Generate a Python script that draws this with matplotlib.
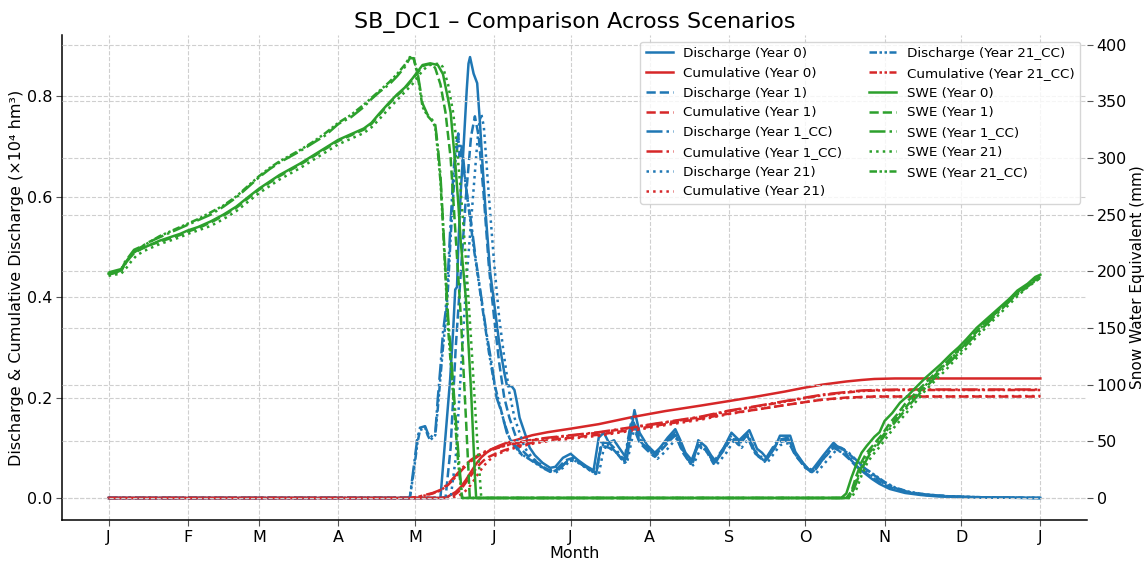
import matplotlib
matplotlib.use("Agg")
import matplotlib.pyplot as plt

# ---------------- data (day of year, value) ----------------
scenarios = ["Year 0", "Year 1", "Year 1_CC", "Year 21", "Year 21_CC"]
month_ticks = [0, 31, 59, 90, 120, 151, 181, 212, 243, 273, 304, 334, 365]
month_labels = ["J", "F", "M", "A", "M", "J", "J", "A", "S", "O", "N", "D", "J"]

# Discharge (x10^4 hm3)
q_y0_days = [0, 130, 133.8, 135, 135.8, 136.5, 137, 138, 139, 140.3, 141, 141.6, 143, 144.4, 145.5, 146.7, 148, 149.5,
             151, 153, 155, 156, 158, 159, 160, 161, 163, 165, 167, 170, 173, 175, 178, 181, 184, 187, 190, 192, 194,
             196, 198, 200, 203, 206, 208, 211, 214, 216, 219, 222, 224, 226, 229, 231, 234, 236, 238, 241, 244, 247,
             251, 254, 256, 258, 261, 263, 267, 269, 272, 275, 277, 280, 284, 286, 288, 290, 293, 296, 299, 302, 306,
             312, 318, 325, 335, 350, 365]
q_y0_vals = [0, 0, 0.236, 0.335, 0.415, 0.42, 0.5, 0.613, 0.693, 0.812, 0.865, 0.878, 0.845, 0.826, 0.746, 0.647, 0.548,
             0.449, 0.39, 0.31, 0.25, 0.225, 0.222, 0.215, 0.19, 0.16, 0.13, 0.1, 0.085, 0.07, 0.06, 0.062, 0.08, 0.088,
             0.075, 0.064, 0.055, 0.12, 0.13, 0.11, 0.115, 0.1, 0.078, 0.175, 0.13, 0.105, 0.09, 0.1, 0.12, 0.137, 0.115,
             0.09, 0.072, 0.115, 0.102, 0.085, 0.072, 0.1, 0.13, 0.115, 0.135, 0.098, 0.09, 0.078, 0.1, 0.124, 0.124,
             0.092, 0.07, 0.052, 0.065, 0.085, 0.11, 0.1, 0.097, 0.08, 0.064, 0.05, 0.038, 0.028, 0.018, 0.01, 0.006,
             0.003, 0.0015, 0.0005, 0]

q_y1_days = [0, 132, 134, 136, 138, 140, 142, 143.5, 145, 147, 149, 151, 153, 155, 157, 159, 161, 164, 167, 170, 173,
             176, 179, 182, 185, 188, 191, 193, 196, 199, 202, 205, 208, 211, 214, 217, 220, 222, 225, 228, 231, 234,
             237, 241, 244, 247, 250, 253, 257, 262, 266, 269, 273, 276, 280, 284, 287, 290, 293, 296, 300, 304, 308,
             313, 320, 330, 345, 365]
q_y1_vals = [0, 0, 0.1, 0.3, 0.45, 0.6, 0.72, 0.76, 0.72, 0.6, 0.46, 0.36, 0.27, 0.2, 0.16, 0.13, 0.1, 0.085, 0.075,
             0.062, 0.055, 0.06, 0.075, 0.08, 0.068, 0.058, 0.05, 0.105, 0.1, 0.09, 0.07, 0.15, 0.11, 0.095, 0.082,
             0.098, 0.115, 0.125, 0.09, 0.068, 0.105, 0.095, 0.068, 0.095, 0.12, 0.105, 0.125, 0.09, 0.072, 0.11, 0.115,
             0.085, 0.06, 0.05, 0.078, 0.1, 0.092, 0.078, 0.062, 0.052, 0.038, 0.026, 0.018, 0.011, 0.006, 0.003,
             0.001, 0]

q_y1cc_days = [0, 118, 119.5, 121, 122, 124, 125, 126, 127, 128, 129, 130, 131, 132, 133, 134, 135, 136, 137, 137.5,
               138.5, 140, 142, 144, 146, 148, 150, 152, 154, 156, 158, 160, 162, 165, 168, 171, 174, 177, 180, 183,
               186, 189, 191, 193, 196, 199, 202, 205, 208, 211, 214, 217, 220, 222, 225, 228, 231, 234, 237, 241,
               244, 247, 250, 253, 257, 262, 266, 269, 273, 276, 280, 284, 287, 290, 293, 296, 300, 304, 308, 313,
               320, 330, 345, 365]
q_y1cc_vals = [0, 0, 0.06, 0.12, 0.14, 0.143, 0.13, 0.12, 0.125, 0.13, 0.2, 0.26, 0.33, 0.37, 0.45, 0.55, 0.64, 0.7,
               0.726, 0.68, 0.7, 0.62, 0.55, 0.47, 0.4, 0.33, 0.27, 0.2, 0.17, 0.13, 0.11, 0.1, 0.085, 0.078, 0.068,
               0.058, 0.052, 0.06, 0.075, 0.078, 0.065, 0.055, 0.05, 0.11, 0.11, 0.095, 0.075, 0.16, 0.12, 0.1, 0.088,
               0.105, 0.12, 0.13, 0.095, 0.07, 0.11, 0.1, 0.072, 0.1, 0.125, 0.11, 0.13, 0.095, 0.075, 0.115, 0.12,
               0.09, 0.062, 0.055, 0.08, 0.105, 0.1, 0.09, 0.075, 0.06, 0.045, 0.03, 0.02, 0.012, 0.007, 0.003, 0.001, 0]

q_y21_days = [0, 134, 136, 138, 140, 142, 144, 145, 146, 147, 149, 151, 153, 155, 157, 159, 161, 163, 166, 169, 172,
              175, 178, 181, 184, 187, 190, 192, 194, 197, 200, 203, 206, 209, 212, 215, 218, 221, 223, 226, 229, 232,
              235, 238, 242, 245, 248, 251, 254, 258, 263, 267, 270, 274, 277, 281, 285, 288, 291, 294, 297, 300, 304,
              308, 313, 320, 330, 345, 365]
q_y21_vals = [0, 0, 0.08, 0.25, 0.42, 0.55, 0.68, 0.74, 0.765, 0.74, 0.6, 0.47, 0.36, 0.28, 0.21, 0.16, 0.13, 0.1,
              0.08, 0.068, 0.055, 0.05, 0.06, 0.075, 0.07, 0.06, 0.05, 0.045, 0.1, 0.1, 0.085, 0.068, 0.14, 0.11, 0.09,
              0.078, 0.092, 0.11, 0.12, 0.085, 0.065, 0.1, 0.09, 0.065, 0.09, 0.115, 0.1, 0.12, 0.085, 0.07, 0.105,
              0.11, 0.08, 0.058, 0.048, 0.072, 0.095, 0.09, 0.078, 0.062, 0.052, 0.04, 0.028, 0.02, 0.012, 0.006,
              0.003, 0.001, 0]

q_y21cc_days = [0, 118, 119.5, 121, 122, 124, 125, 126, 127, 128, 129, 130, 131, 132, 133, 134, 135, 136, 137, 138,
                139, 141, 143, 145, 147, 149, 151, 153, 155, 157, 159, 161, 164, 167, 170, 173, 176, 179, 182, 185,
                188, 191, 193, 196, 199, 202, 205, 208, 211, 214, 217, 220, 222, 225, 228, 231, 234, 237, 241, 244,
                247, 250, 253, 257, 262, 266, 269, 273, 276, 280, 284, 287, 290, 293, 296, 300, 304, 308, 313, 320,
                330, 345, 365]
q_y21cc_vals = [0, 0, 0.05, 0.11, 0.135, 0.14, 0.125, 0.115, 0.12, 0.125, 0.18, 0.24, 0.3, 0.35, 0.42, 0.52, 0.6,
                0.68, 0.71, 0.7, 0.66, 0.58, 0.5, 0.43, 0.36, 0.29, 0.23, 0.19, 0.15, 0.12, 0.105, 0.09, 0.08, 0.07,
                0.06, 0.052, 0.055, 0.07, 0.076, 0.068, 0.057, 0.048, 0.105, 0.105, 0.09, 0.072, 0.15, 0.115, 0.097,
                0.085, 0.1, 0.117, 0.127, 0.092, 0.068, 0.105, 0.097, 0.07, 0.097, 0.12, 0.107, 0.127, 0.092, 0.073,
                0.112, 0.117, 0.087, 0.06, 0.053, 0.078, 0.102, 0.098, 0.088, 0.074, 0.06, 0.046, 0.032, 0.021, 0.013,
                0.007, 0.003, 0.001, 0]

# Cumulative discharge (x10^4 hm3)
c_y0_days = [0, 130, 133, 136, 138, 140, 142, 144, 146, 148, 150, 153, 156, 160, 166, 172, 181, 192, 205, 218, 232,
             243, 255, 265, 273, 280, 289, 295, 300, 308, 365]
c_y0_vals = [0, 0, 0.003, 0.012, 0.022, 0.036, 0.052, 0.068, 0.081, 0.09, 0.097, 0.104, 0.11, 0.116, 0.125, 0.131,
             0.138, 0.147, 0.161, 0.173, 0.184, 0.193, 0.203, 0.212, 0.22, 0.226, 0.232, 0.235, 0.237, 0.238, 0.238]

c_y1_days = [0, 132, 135, 137, 139, 141, 143, 145, 147, 149, 152, 155, 160, 166, 172, 181, 192, 205, 218, 232, 243,
             255, 265, 273, 280, 289, 295, 300, 365]
c_y1_vals = [0, 0, 0.004, 0.012, 0.024, 0.038, 0.052, 0.065, 0.075, 0.082, 0.089, 0.095, 0.103, 0.11, 0.115, 0.12,
             0.126, 0.136, 0.147, 0.158, 0.168, 0.177, 0.185, 0.191, 0.196, 0.2, 0.201, 0.202, 0.202]

c_y1cc_days = [0, 118, 121, 124, 127, 130, 133, 136, 139, 142, 145, 148, 152, 156, 160, 166, 172, 181, 192, 205, 218,
               232, 243, 255, 265, 273, 280, 289, 295, 300, 310, 365]
c_y1cc_vals = [0, 0, 0.002, 0.006, 0.01, 0.016, 0.028, 0.045, 0.062, 0.076, 0.086, 0.094, 0.1, 0.106, 0.11, 0.116,
               0.12, 0.125, 0.131, 0.141, 0.151, 0.162, 0.174, 0.184, 0.193, 0.2, 0.206, 0.211, 0.214, 0.215, 0.216,
               0.216]

c_y21_days = [0, 134, 137, 139, 141, 143, 145, 147, 149, 152, 155, 160, 166, 172, 181, 192, 205, 218, 232, 243, 255,
              265, 273, 280, 289, 295, 300, 365]
c_y21_vals = [0, 0, 0.004, 0.01, 0.02, 0.034, 0.05, 0.064, 0.075, 0.086, 0.093, 0.101, 0.108, 0.113, 0.118, 0.124,
              0.134, 0.145, 0.156, 0.167, 0.177, 0.185, 0.191, 0.196, 0.199, 0.201, 0.202, 0.203]

c_y21cc_days = [0, 118, 121, 124, 127, 130, 133, 136, 139, 142, 145, 148, 152, 156, 160, 166, 172, 181, 192, 205,
                218, 232, 243, 255, 265, 273, 280, 289, 295, 300, 310, 365]
c_y21cc_vals = [0, 0, 0.002, 0.005, 0.009, 0.015, 0.026, 0.042, 0.059, 0.073, 0.084, 0.092, 0.099, 0.105, 0.109,
                0.115, 0.119, 0.124, 0.13, 0.14, 0.15, 0.161, 0.173, 0.183, 0.192, 0.199, 0.205, 0.21, 0.213, 0.214,
                0.215, 0.215]

# Snow water equivalent (mm)
s_y0_days = [0, 3, 5, 6, 8, 10, 13, 16, 20, 24, 28, 31, 35, 40, 45, 50, 55, 59, 63, 67, 71, 75, 80, 85, 90, 95, 100,
             103, 106, 110, 113, 116, 119, 121, 123, 126, 129, 131, 133, 134, 136, 137, 138, 140, 142, 143.5, 144, 287,
             289, 291, 293, 295, 297, 300, 302, 304, 307, 310, 313, 316, 320, 323, 326, 330, 333, 336, 340, 343, 346,
             350, 353, 356, 360, 363, 365]
s_y0_vals = [198, 199, 201, 206, 212, 217, 220, 223, 227, 230, 233, 236, 239, 244, 250, 257, 266, 273, 279, 285, 290,
             295, 302, 309, 316, 321, 326, 331, 339, 349, 356, 362, 370, 376, 382, 383.5, 382, 374, 352, 340, 290, 260,
             225, 175, 95, 20, 0, 0, 4, 18, 30, 40, 46, 54, 58, 68, 75, 84, 90, 97, 106, 112, 118, 127, 133, 140, 150,
             156, 162, 170, 176, 183, 189, 195, 197]

s_y1_days = [0, 5, 6, 8, 10, 13, 16, 20, 24, 28, 31, 35, 40, 45, 50, 55, 59, 63, 67, 71, 75, 80, 85, 90, 95, 100, 103,
             106, 110, 113, 116, 119, 121, 123, 125, 127, 128, 130, 132, 134, 135, 136, 138, 140, 141.5, 289, 291, 293,
             295, 297, 300, 303, 306, 309, 312, 315, 318, 322, 326, 330, 334, 338, 342, 346, 350, 354, 358, 362, 365]
s_y1_vals = [197, 200, 205, 211, 216, 220, 223, 226, 229, 232, 235, 238, 243, 249, 256, 265, 272, 278, 284, 289, 294,
             301, 308, 315, 320, 325, 330, 338, 348, 355, 361, 369, 375, 381, 382.5, 382.5, 379, 365, 340, 300, 265,
             230, 160, 70, 0, 0, 6, 20, 32, 40, 48, 56, 66, 74, 83, 90, 97, 106, 115, 124, 133, 142, 152, 160, 168,
             177, 184, 191, 195]

s_y1cc_days = [0, 5, 6, 8, 10, 13, 16, 20, 24, 28, 31, 35, 40, 45, 50, 55, 59, 63, 67, 71, 75, 80, 85, 90, 95, 100,
               103, 106, 110, 113, 116, 118, 119.5, 121, 123, 125, 127, 128, 129, 130, 131, 132, 133, 135, 137, 138.5,
               290, 292, 294, 296, 298, 301, 304, 307, 310, 313, 316, 319, 322, 326, 330, 334, 338, 342, 346, 350, 354,
               358, 362, 365]
s_y1cc_vals = [199, 202, 207, 213, 219, 222, 226, 230, 234, 238, 241, 245, 250, 257, 265, 275, 283, 290, 296, 301,
               306, 313, 320, 330, 336, 345, 352, 358, 365, 372, 380, 388, 388, 376, 348, 338, 333, 329, 310, 285, 245,
               200, 160, 100, 40, 0, 0, 8, 20, 30, 38, 46, 55, 64, 72, 80, 88, 95, 102, 112, 121, 130, 140, 149, 158,
               167, 176, 183, 190, 194]

s_y21_days = [0, 5, 7, 9, 11, 14, 17, 20, 24, 28, 31, 35, 40, 45, 50, 55, 59, 63, 67, 71, 75, 80, 85, 90, 95, 100, 103,
              106, 110, 113, 116, 119, 121, 123, 125, 127, 130, 131, 133, 135, 136, 138, 140, 142, 144, 146, 291, 293,
              295, 297, 299, 302, 305, 308, 311, 314, 317, 320, 324, 328, 332, 336, 340, 344, 348, 352, 356, 360, 363,
              365]
s_y21_vals = [196, 198, 203, 209, 214, 218, 221, 224, 227, 230, 233, 236, 240, 246, 253, 262, 269, 275, 281, 286, 291,
              298, 305, 312, 317, 322, 327, 334, 344, 351, 358, 365, 371, 377, 381, 383, 383, 380, 365, 340, 320, 270,
              210, 140, 65, 0, 0, 8, 20, 30, 37, 45, 54, 63, 71, 79, 87, 95, 104, 113, 123, 132, 142, 151, 160, 169,
              178, 186, 191, 194]

s_y21cc_days = [0, 5, 7, 9, 11, 14, 17, 20, 24, 28, 31, 35, 40, 45, 50, 55, 59, 63, 67, 71, 75, 80, 85, 90, 95, 100,
                103, 106, 110, 113, 116, 118, 119.5, 121, 123, 125, 127, 128, 129, 130, 131, 132, 133, 135, 137, 138.5,
                290, 292, 294, 296, 298, 301, 304, 307, 310, 313, 316, 319, 322, 326, 330, 334, 338, 342, 346, 350,
                354, 358, 362, 365]
s_y21cc_vals = [198, 201, 208, 214, 219, 223, 227, 231, 235, 239, 242, 246, 252, 258, 266, 276, 284, 291, 297, 302,
                307, 314, 322, 331, 338, 347, 353, 359, 367, 374, 382, 389, 388, 374, 345, 337, 332, 327, 305, 280,
                240, 195, 150, 90, 30, 0, 0, 10, 22, 32, 40, 48, 57, 66, 74, 82, 90, 97, 104, 114, 123, 132, 142, 151,
                160, 169, 178, 185, 191, 196]

discharge = [(q_y0_days, q_y0_vals), (q_y1_days, q_y1_vals), (q_y1cc_days, q_y1cc_vals),
             (q_y21_days, q_y21_vals), (q_y21cc_days, q_y21cc_vals)]
cumulative = [(c_y0_days, c_y0_vals), (c_y1_days, c_y1_vals), (c_y1cc_days, c_y1cc_vals),
              (c_y21_days, c_y21_vals), (c_y21cc_days, c_y21cc_vals)]
swe = [(s_y0_days, s_y0_vals), (s_y1_days, s_y1_vals), (s_y1cc_days, s_y1cc_vals),
       (s_y21_days, s_y21_vals), (s_y21cc_days, s_y21cc_vals)]

# ---------------- styling ----------------
styles = ["-", "--", "-.", ":", (0, (3, 1, 1, 1, 1, 1))]
c_q, c_c, c_s = "#1f77b4", "#d62728", "#2ca02c"
lw = 1.8

fig = plt.figure(figsize=(11.45, 5.65), dpi=100)
ax1 = fig.add_axes([0.0541, 0.0796, 0.8952, 0.8584])
ax2 = ax1.twinx()

handles, labels = [], []
for name, ls, (qd, qv), (cd, cv) in zip(scenarios, styles, discharge, cumulative):
    h1, = ax1.plot(qd, qv, color=c_q, ls=ls, lw=lw, label=f"Discharge ({name})")
    h2, = ax1.plot(cd, cv, color=c_c, ls=ls, lw=lw, label=f"Cumulative ({name})")
    handles += [h1, h2]
    labels += [h1.get_label(), h2.get_label()]
for name, ls, (sd, sv) in zip(scenarios, styles, swe):
    h, = ax2.plot(sd, sv, color=c_s, ls=ls, lw=lw, label=f"SWE ({name})")
    handles.append(h)
    labels.append(h.get_label())

ax1.set_xticks(month_ticks)
ax1.set_xticklabels(month_labels)
ax1.set_yticks([0.0, 0.2, 0.4, 0.6, 0.8])
ax2.set_yticks([0, 50, 100, 150, 200, 250, 300, 350, 400])

for ax in (ax1, ax2):
    ax.grid(True, linestyle="--", color="#cfcfcf", linewidth=0.8)
    ax.spines["top"].set_visible(False)
    ax.spines["right"].set_visible(False)
    ax.tick_params(labelsize=11.5, length=4, color="#555555", pad=3)
ax2.spines["left"].set_visible(False)
ax2.spines["bottom"].set_visible(False)
ax1.spines["left"].set_linewidth(1.1)
ax1.spines["bottom"].set_linewidth(1.1)

ax1.set_xlabel("Month", fontsize=11.5, labelpad=1)
ax1.set_ylabel("Discharge & Cumulative Discharge (×10⁴ hm³)", fontsize=11.5, labelpad=2)
ax2.set_ylabel("Snow Water Equivalent (mm)", fontsize=11, labelpad=2)
ax1.set_title("SB_DC1 – Comparison Across Scenarios", fontsize=16, pad=5)

ax2.legend(handles, labels, loc="upper right", ncol=2, fontsize=9.7, framealpha=0.8)

fig.savefig("out.png", dpi=100)
